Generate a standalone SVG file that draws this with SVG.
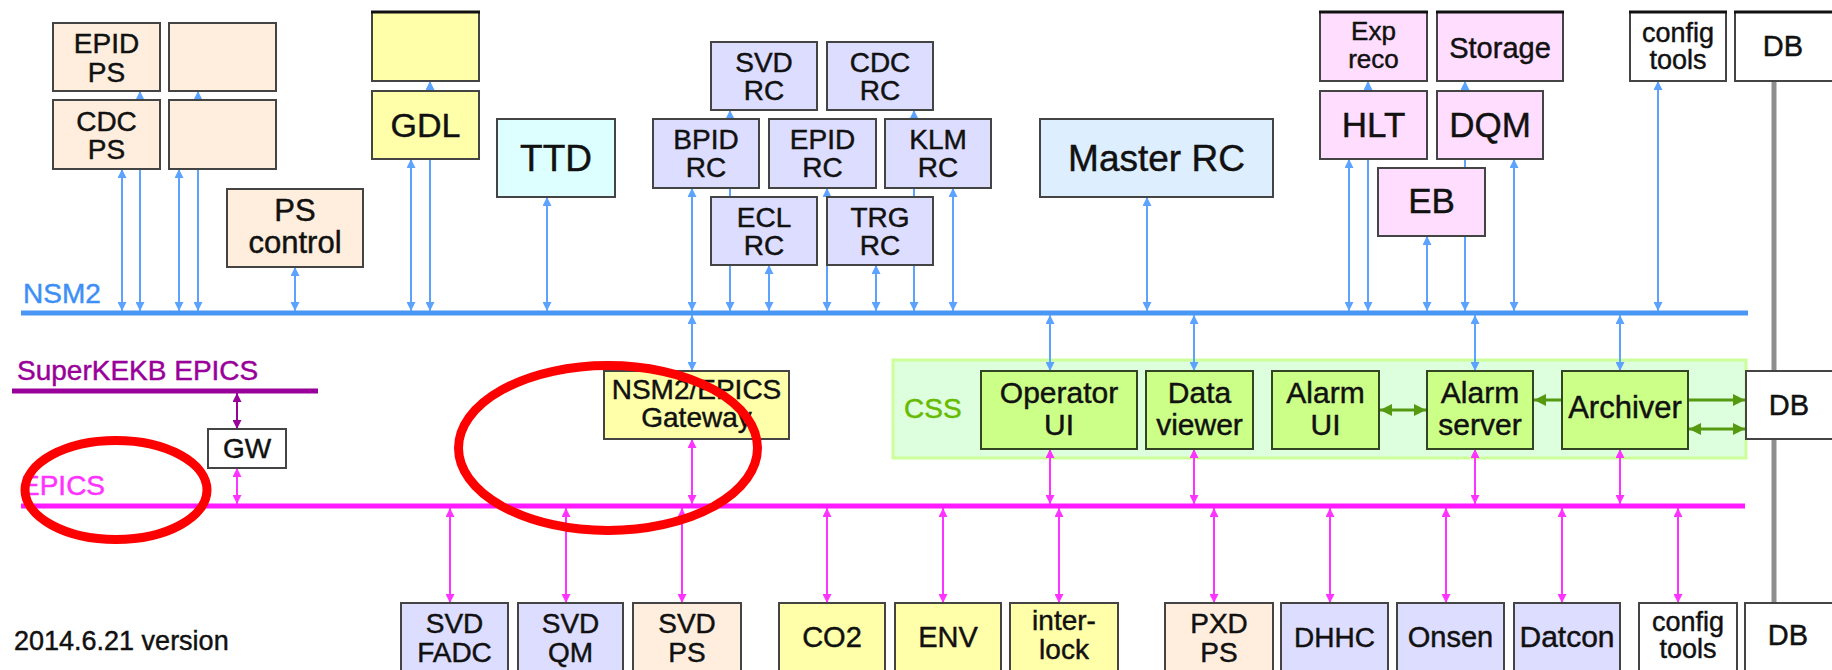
<svg xmlns="http://www.w3.org/2000/svg" width="1832" height="670" viewBox="0 0 1832 670">
<style>
.b{stroke:#444;stroke-width:2}
.pe{fill:#ffeedd}.ye{fill:#ffffaa}.cy{fill:#ddffff}.la{fill:#ddddff}.mr{fill:#ddeeff}.pk{fill:#ffddff}.gr{fill:#ccff88;stroke:#334422}.wh{fill:#ffffff}
.tk{stroke:#111;stroke-width:3}
text{font-family:"Liberation Sans",Arial,sans-serif;fill:#111;stroke:#111;stroke-width:0.45;text-anchor:middle}
.t26{font-size:26px}.t27{font-size:27px}.t28{font-size:28px}.t29{font-size:29px}.t30{font-size:30px}.t31{font-size:31px}.t34{font-size:34px}.t35{font-size:35px}.t37{font-size:37px}
.lb{text-anchor:start;font-size:28px}
.cb{stroke:#5ca3ff;stroke-width:2;fill:none;marker-start:url(#ab);marker-end:url(#ab)}
.cm{stroke:#ff33ff;stroke-width:2;fill:none;marker-start:url(#am);marker-end:url(#am)}
.cp{stroke:#990099;stroke-width:2;fill:none;marker-start:url(#ap);marker-end:url(#ap)}
.cg{stroke:#559911;stroke-width:3;fill:none}
.bus{stroke-width:5;fill:none}
.red{fill:none;stroke:#ff0000;stroke-width:9}
</style>
<defs>
<marker id="ab" viewBox="0 0 10 10" refX="10" refY="5" markerWidth="10" markerHeight="9" markerUnits="userSpaceOnUse" orient="auto-start-reverse"><path d="M0,0L10,5L0,10z" fill="#5ca3ff"/></marker>
<marker id="am" viewBox="0 0 10 10" refX="10" refY="5" markerWidth="10" markerHeight="9" markerUnits="userSpaceOnUse" orient="auto-start-reverse"><path d="M0,0L10,5L0,10z" fill="#ff33ff"/></marker>
<marker id="ap" viewBox="0 0 10 10" refX="10" refY="5" markerWidth="10" markerHeight="9" markerUnits="userSpaceOnUse" orient="auto-start-reverse"><path d="M0,0L10,5L0,10z" fill="#990099"/></marker>
<marker id="ag" viewBox="0 0 10 10" refX="10" refY="5" markerWidth="13" markerHeight="12" markerUnits="userSpaceOnUse" orient="auto-start-reverse"><path d="M0,0L10,5L0,10z" fill="#559911"/></marker>
</defs>
<rect width="1832" height="670" fill="#ffffff"/>

<g id="buses">
<line class="bus" x1="21" y1="313" x2="1748" y2="313" stroke="#4a96f5"/>
<line class="bus" x1="12" y1="391" x2="318" y2="391" stroke="#990099"/>
<line class="bus" x1="21" y1="506" x2="1745" y2="506" stroke="#ff1aff"/>
<line x1="1774" y1="81" x2="1774" y2="371" stroke="#8e8e8e" stroke-width="5"/>
<line x1="1774" y1="439" x2="1774" y2="603" stroke="#8e8e8e" stroke-width="5"/>
<text class="lb" x="23" y="303" style="fill:#3d8ff5;stroke:#3d8ff5">NSM2</text>
<text class="lb" x="17" y="380" style="fill:#990099;stroke:#990099">SuperKEKB EPICS</text>
<text class="lb" x="21" y="495" style="fill:#ff33ff;stroke:#ff33ff">EPICS</text>
<text class="lb" x="14" y="650" style="font-size:27px">2014.6.21 version</text>
</g>

<g id="css">
<rect x="893" y="360" width="853" height="98" fill="#ddffdd" stroke="#ccff99" stroke-width="3"/>
<text class="lb" x="904" y="418" style="fill:#66bb00;stroke:#66bb00">CSS</text>
</g>

<g id="connectors">
<line class="cb" x1="122" y1="169" x2="122" y2="311"/>
<line class="cb" x1="140" y1="91" x2="140" y2="311"/>
<line class="cb" x1="179" y1="169" x2="179" y2="311"/>
<line class="cb" x1="198" y1="91" x2="198" y2="311"/>
<line class="cb" x1="295" y1="267" x2="295" y2="311"/>
<line class="cb" x1="411" y1="159" x2="411" y2="311"/>
<line class="cb" x1="430" y1="81" x2="430" y2="311"/>
<line class="cb" x1="547" y1="197" x2="547" y2="311"/>
<line class="cb" x1="692" y1="188" x2="692" y2="311"/>
<line class="cb" x1="730" y1="110" x2="730" y2="311"/>
<line class="cb" x1="769" y1="265" x2="769" y2="311"/>
<line class="cb" x1="827" y1="188" x2="827" y2="311"/>
<line class="cb" x1="876" y1="265" x2="876" y2="311"/>
<line class="cb" x1="914" y1="110" x2="914" y2="311"/>
<line class="cb" x1="953" y1="188" x2="953" y2="311"/>
<line class="cb" x1="1147" y1="197" x2="1147" y2="311"/>
<line class="cb" x1="1349" y1="159" x2="1349" y2="311"/>
<line class="cb" x1="1368" y1="81" x2="1368" y2="311"/>
<line class="cb" x1="1427" y1="236" x2="1427" y2="311"/>
<line class="cb" x1="1465" y1="81" x2="1465" y2="311"/>
<line class="cb" x1="1514" y1="159" x2="1514" y2="311"/>
<line class="cb" x1="1658" y1="81" x2="1658" y2="311"/>
<line class="cb" x1="692" y1="315" x2="692" y2="371"/>
<line class="cb" x1="1050" y1="315" x2="1050" y2="371"/>
<line class="cb" x1="1194" y1="315" x2="1194" y2="371"/>
<line class="cb" x1="1475" y1="315" x2="1475" y2="371"/>
<line class="cb" x1="1620" y1="315" x2="1620" y2="371"/>
<line class="cp" x1="237" y1="393" x2="237" y2="429"/>
<line class="cm" x1="237" y1="468" x2="237" y2="504"/>
<line class="cm" x1="692" y1="439" x2="692" y2="504"/>
<line class="cm" x1="1050" y1="449" x2="1050" y2="504"/>
<line class="cm" x1="1194" y1="449" x2="1194" y2="504"/>
<line class="cm" x1="1475" y1="449" x2="1475" y2="504"/>
<line class="cm" x1="1620" y1="449" x2="1620" y2="504"/>
<line class="cm" x1="450" y1="508" x2="450" y2="603"/>
<line class="cm" x1="566" y1="508" x2="566" y2="603"/>
<line class="cm" x1="682" y1="508" x2="682" y2="603"/>
<line class="cm" x1="827" y1="508" x2="827" y2="603"/>
<line class="cm" x1="943" y1="508" x2="943" y2="603"/>
<line class="cm" x1="1059" y1="508" x2="1059" y2="603"/>
<line class="cm" x1="1214" y1="508" x2="1214" y2="603"/>
<line class="cm" x1="1330" y1="508" x2="1330" y2="603"/>
<line class="cm" x1="1446" y1="508" x2="1446" y2="603"/>
<line class="cm" x1="1562" y1="508" x2="1562" y2="603"/>
<line class="cm" x1="1678" y1="508" x2="1678" y2="603"/>
<line class="cg" x1="1380" y1="410" x2="1426" y2="410" marker-start="url(#ag)" marker-end="url(#ag)"/>
<line class="cg" x1="1562" y1="400" x2="1534" y2="400" marker-end="url(#ag)"/>
<line class="cg" x1="1689" y1="400" x2="1745" y2="400" marker-end="url(#ag)"/>
<line class="cg" x1="1689" y1="429" x2="1745" y2="429" marker-start="url(#ag)" marker-end="url(#ag)"/>
</g>

<g id="n-epid-ps"><rect class="b pe" x="53" y="23" width="107" height="68"/><text class="t28" x="106.5" y="53">EPID<tspan x="106.5" y="82">PS</tspan></text></g>
<g id="n-ps-blank1"><rect class="b pe" x="169" y="23" width="107" height="68"/></g>
<g id="n-cdc-ps"><rect class="b pe" x="53" y="100" width="107" height="69"/><text class="t28" x="106.5" y="130.5">CDC<tspan x="106.5" y="159">PS</tspan></text></g>
<g id="n-ps-blank2"><rect class="b pe" x="169" y="100" width="107" height="69"/></g>
<g id="n-ps-control"><rect class="b pe" x="227" y="189" width="136" height="78"/><text class="t31" x="295" y="221">PS<tspan x="295" y="253">control</tspan></text></g>
<g id="n-gdl-top"><rect class="b ye" x="372" y="12" width="107" height="69"/><line class="tk" x1="371" y1="12" x2="480" y2="12"/></g>
<g id="n-gdl"><rect class="b ye" x="372" y="91" width="107" height="68"/><text class="t34" x="425.5" y="137">GDL</text></g>
<g id="n-ttd"><rect class="b cy" x="497" y="119" width="118" height="78"/><text class="t37" x="556" y="171">TTD</text></g>
<g id="n-svd-rc"><rect class="b la" x="711" y="42" width="106" height="68"/><text class="t28" x="764" y="72">SVD<tspan x="764" y="100">RC</tspan></text></g>
<g id="n-cdc-rc"><rect class="b la" x="827" y="42" width="106" height="68"/><text class="t28" x="880" y="72">CDC<tspan x="880" y="100">RC</tspan></text></g>
<g id="n-bpid-rc"><rect class="b la" x="653" y="119" width="106" height="69"/><text class="t28" x="706" y="149">BPID<tspan x="706" y="177">RC</tspan></text></g>
<g id="n-epid-rc"><rect class="b la" x="769" y="119" width="107" height="69"/><text class="t28" x="822.5" y="149">EPID<tspan x="822.5" y="177">RC</tspan></text></g>
<g id="n-klm-rc"><rect class="b la" x="885" y="119" width="106" height="69"/><text class="t28" x="938" y="149">KLM<tspan x="938" y="177">RC</tspan></text></g>
<g id="n-ecl-rc"><rect class="b la" x="711" y="197" width="106" height="68"/><text class="t28" x="764" y="227">ECL<tspan x="764" y="255">RC</tspan></text></g>
<g id="n-trg-rc"><rect class="b la" x="827" y="197" width="106" height="68"/><text class="t28" x="880" y="227">TRG<tspan x="880" y="255">RC</tspan></text></g>
<g id="n-master-rc"><rect class="b mr" x="1040" y="119" width="233" height="78"/><text class="t37" x="1156.5" y="171">Master RC</text></g>
<g id="n-exp-reco"><rect class="b pk" x="1320" y="12" width="107" height="69"/><line class="tk" x1="1319" y1="12" x2="1428" y2="12"/><text class="t26" x="1373.5" y="40">Exp<tspan x="1373.5" y="68">reco</tspan></text></g>
<g id="n-storage"><rect class="b pk" x="1437" y="12" width="126" height="69"/><line class="tk" x1="1436" y1="12" x2="1564" y2="12"/><text class="t29" x="1500" y="58">Storage</text></g>
<g id="n-hlt"><rect class="b pk" x="1320" y="91" width="107" height="68"/><text class="t35" x="1373.5" y="137">HLT</text></g>
<g id="n-dqm"><rect class="b pk" x="1437" y="91" width="106" height="68"/><text class="t35" x="1490" y="137">DQM</text></g>
<g id="n-eb"><rect class="b pk" x="1378" y="168" width="107" height="68"/><text class="t35" x="1431.5" y="213">EB</text></g>
<g id="n-config-top"><rect class="b wh" x="1630" y="12" width="96" height="69"/><line class="tk" x1="1629" y1="12" x2="1727" y2="12"/><text class="t27" x="1678" y="42">config<tspan x="1678" y="69">tools</tspan></text></g>
<g id="n-db-top"><rect class="b wh" x="1735" y="12" width="110" height="69"/><line class="tk" x1="1734" y1="12" x2="1832" y2="12"/><text class="t29" x="1783" y="56">DB</text></g>

<g id="n-gw"><rect class="b wh" x="208" y="429" width="78" height="39"/><text class="t28" x="247" y="458">GW</text></g>
<g id="n-gateway"><rect class="b ye" x="604" y="371" width="185" height="68"/><text class="t28" x="696.5" y="399">NSM2/EPICS<tspan x="696.5" y="427">Gateway</tspan></text></g>
<g id="n-operator-ui"><rect class="b gr" x="981" y="371" width="156" height="78"/><text class="t30" x="1059" y="403">Operator<tspan x="1059" y="435">UI</tspan></text></g>
<g id="n-data-viewer"><rect class="b gr" x="1146" y="371" width="107" height="78"/><text class="t30" x="1199.5" y="403">Data<tspan x="1199.5" y="435">viewer</tspan></text></g>
<g id="n-alarm-ui"><rect class="b gr" x="1272" y="371" width="107" height="78"/><text class="t30" x="1325.5" y="403">Alarm<tspan x="1325.5" y="435">UI</tspan></text></g>
<g id="n-alarm-server"><rect class="b gr" x="1427" y="371" width="106" height="78"/><text class="t30" x="1480" y="403">Alarm<tspan x="1480" y="435">server</tspan></text></g>
<g id="n-archiver"><rect class="b gr" x="1562" y="371" width="126" height="78"/><text class="t31" x="1625" y="418">Archiver</text></g>
<g id="n-db-mid"><rect class="b wh" x="1746" y="371" width="100" height="68"/><text class="t29" x="1789" y="415">DB</text></g>

<g id="n-svd-fadc"><rect class="b la" x="401" y="603" width="107" height="72"/><text class="t28" x="454.5" y="633">SVD<tspan x="454.5" y="662">FADC</tspan></text></g>
<g id="n-svd-qm"><rect class="b la" x="518" y="603" width="105" height="72"/><text class="t28" x="570.5" y="633">SVD<tspan x="570.5" y="662">QM</tspan></text></g>
<g id="n-svd-ps"><rect class="b pe" x="633" y="603" width="108" height="72"/><text class="t28" x="687" y="633">SVD<tspan x="687" y="662">PS</tspan></text></g>
<g id="n-co2"><rect class="b ye" x="779" y="603" width="106" height="72"/><text class="t29" x="832" y="647">CO2</text></g>
<g id="n-env"><rect class="b ye" x="895" y="603" width="106" height="72"/><text class="t29" x="948" y="647">ENV</text></g>
<g id="n-interlock"><rect class="b ye" x="1010" y="603" width="108" height="72"/><text class="t28" x="1064" y="630">inter-<tspan x="1064" y="659">lock</tspan></text></g>
<g id="n-pxd-ps"><rect class="b pe" x="1165" y="603" width="108" height="72"/><text class="t28" x="1219" y="633">PXD<tspan x="1219" y="662">PS</tspan></text></g>
<g id="n-dhhc"><rect class="b la" x="1281" y="603" width="107" height="72"/><text class="t28" x="1334.5" y="647">DHHC</text></g>
<g id="n-onsen"><rect class="b la" x="1397" y="603" width="107" height="72"/><text class="t29" x="1450.5" y="647">Onsen</text></g>
<g id="n-datcon"><rect class="b la" x="1514" y="603" width="106" height="72"/><text class="t30" x="1567" y="647">Datcon</text></g>
<g id="n-config-bottom"><rect class="b wh" x="1639" y="603" width="98" height="72"/><text class="t27" x="1688" y="631">config<tspan x="1688" y="658">tools</tspan></text></g>
<g id="n-db-bottom"><rect class="b wh" x="1745" y="603" width="100" height="72"/><text class="t29" x="1788" y="645">DB</text></g>

<g id="annotations">
<ellipse class="red" cx="116" cy="490" rx="91" ry="49.5"/>
<ellipse class="red" cx="608" cy="448" rx="149.5" ry="82.5"/>
</g>
</svg>
